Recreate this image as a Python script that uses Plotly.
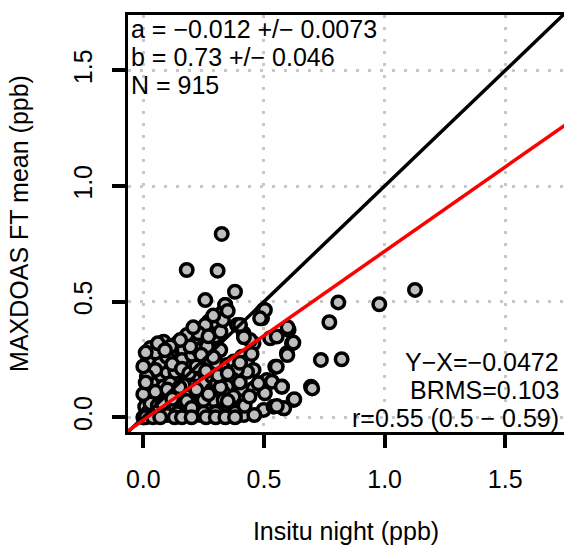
import plotly.graph_objects as go

# ---- data ----
insitu_night = [
    0.257, 0.340, 0.326, 0.271, 0.305, 0.388, 0.416, 0.499, 0.492, 0.209, 0.181, 0.140, 0.084, 0.222,
    0.250, 0.298, 0.278, 0.319, 0.167, 0.112, 0.070, 0.064, 0.133, 0.195, 0.236, 0.278, 0.305, 0.347,
    0.374, 0.409, 0.430, 0.457, 0.430, 0.388, 0.374, 0.347, 0.333, 0.409, 0.457, 0.485, 0.512, 0.533,
    0.575, 0.547, 0.595, 0.616, 0.602, 0.526, 0.457, 0.443, 0.499, 0.540, 0.581, 0.623, 0.409, 0.395,
    0.347, 0.305, 0.264, 0.222, 0.174, 0.126, 0.084, 0.043, 0.015, 0.029, 0.043, 0.029, 0.070, 0.098,
    0.133, 0.181, 0.215, 0.250, 0.285, 0.236, 0.195, 0.146, 0.105, 0.064, 0.036, 0.084, 0.285, 0.305,
    0.070, 0.050, 0.015, 0.008, 0.050, 0.098, 0.140, 0.181, 0.236, 0.278, 0.319, 0.360, 0.416, 0.291,
    0.250, 0.160, 0.333, 0.374, 0.209, 0.167, 0.112, 0.133, 0.098, 0.160, 0.202, 0.229, 0.264, 0.195,
    0.153, 0.112, 0.257, 0.229,
    # outliers
    0.325, 0.180, 0.308, 0.380, 0.339, 0.325, 0.207, 0.504, 0.484, 0.401,
    1.126, 0.978, 0.808, 0.771, 0.598, 0.736, 0.822, 0.695, 0.700, 0.626, 0.584, 0.553, 0.574, 0.553,
    0.553, 0.597, 0.622, 0.504, 0.477, 0.417, 0.449, 0.401,
    # dense core
    0.02, 0.03, 0.06, 0.05, 0.08, 0.10, 0.12, 0.15, 0.18, 0.20, 0.22, 0.25, 0.27, 0.30, 0.32, 0.35,
    0.38, 0.40, 0.42, 0.44, 0.02, 0.03, 0.05, 0.06, 0.09, 0.12, 0.16, 0.19, 0.22, 0.26, 0.29, 0.31,
    0.35, 0.24, 0.27, 0.32, 0.33, 0.29, 0.35, 0.00, 0.01, 0.00, 0.01, 0.00, 0.01, 0.04, 0.07, 0.13,
    0.16, 0.20, 0.26, 0.30, 0.34, 0.38, 0.46,
]
maxdoas_ft = [
    0.507, 0.486, 0.450, 0.414, 0.407, 0.399, 0.363, 0.464, 0.428, 0.378, 0.356, 0.320, 0.327, 0.327,
    0.349, 0.349, 0.298, 0.291, 0.291, 0.277, 0.262, 0.291, 0.226, 0.219, 0.255, 0.248, 0.233, 0.226,
    0.241, 0.262, 0.241, 0.205, 0.197, 0.205, 0.161, 0.133, 0.104, 0.118, 0.125, 0.147, 0.161, 0.154,
    0.133, 0.219, 0.277, 0.320, 0.378, 0.342, 0.320, 0.334, 0.032, 0.046, 0.039, 0.075, 0.068, 0.032,
    0.039, 0.046, 0.061, 0.046, 0.039, 0.046, 0.032, 0.046, 0.075, 0.118, 0.161, 0.197, 0.183, 0.197,
    0.169, 0.169, 0.161, 0.147, 0.118, 0.097, 0.104, 0.104, 0.089, 0.089, 0.147, 0.133, 0.176, 0.147,
    0.234, 0.205, 0.176, 0.046, 0.017, 0.010, 0.017, 0.010, 0.010, 0.010, 0.010, 0.010, 0.010, 0.075,
    0.075, 0.075, 0.075, 0.089, 0.133, 0.140, 0.147, 0.197, 0.262, 0.248, 0.270, 0.291, 0.306, 0.306,
    0.334, 0.306, 0.399, 0.363,
    # outliers
    0.793, 0.637, 0.634, 0.543, 0.486, 0.447, 0.389, 0.464, 0.428, 0.399,
    0.551, 0.489, 0.497, 0.411, 0.389, 0.248, 0.251, 0.132, 0.125, 0.078, 0.039, 0.049, 0.132, 0.219,
    0.349, 0.269, 0.323, 0.104, 0.147, 0.346, 0.274, 0.236,
    # dense core
    0.02, 0.06, 0.05, 0.11, 0.06, 0.12, 0.08, 0.13, 0.07, 0.04, 0.12, 0.02, 0.10, 0.02, 0.13, 0.07,
    0.02, 0.15, 0.05, 0.09, 0.25, 0.30, 0.28, 0.32, 0.29, 0.23, 0.21, 0.19, 0.22, 0.20, 0.26, 0.18,
    0.19, 0.27, 0.35, 0.37, 0.42, 0.44, 0.46, 0.10, 0.15, 0.22, 0.28, 0.00, 0.00, 0.00, 0.00, 0.00,
    0.00, 0.00, 0.00, 0.00, 0.00, 0.00, 0.01,
]

fit_a = -0.012
fit_b = 0.73
fit_a_err = 0.0073
fit_b_err = 0.046
n_points = 915
mean_diff = -0.0472
brms = 0.103
r_val, r_lo, r_hi = 0.55, 0.5, 0.59

x_range = [-0.0634, 1.7435]
y_range = [-0.0636, 1.740]
tick_vals = [0.0, 0.5, 1.0, 1.5]
tick_text = ["0.0", "0.5", "1.0", "1.5"]

FONT = "Liberation Sans, Arial, Helvetica, sans-serif"
FS = 25

fig = go.Figure()
fig.add_trace(go.Scatter(
    x=insitu_night, y=maxdoas_ft, mode="markers",
    marker=dict(size=12.5, color="#bebebe", line=dict(color="black", width=3.5)),
    hoverinfo="skip", showlegend=False))

line_x = [x_range[0] - 1, x_range[1] + 1]
fig.add_trace(go.Scatter(x=line_x, y=line_x, mode="lines",
                         line=dict(color="black", width=3.5), showlegend=False))
fig.add_trace(go.Scatter(x=line_x, y=[fit_a + fit_b * v for v in line_x], mode="lines",
                         line=dict(color="#ff0000", width=3.5), showlegend=False))

M = "\u2212"
def num(v):
    s = f"{v}"
    return s.replace("-", M)

top_lines = [
    f"a = {num(fit_a)} +/{M} {fit_a_err}",
    f"b = {fit_b} +/{M} {fit_b_err}",
    f"N = {n_points}",
]
top_y = [0.966, 0.899, 0.831]
for t, yy in zip(top_lines, top_y):
    fig.add_annotation(text=t, xref="paper", yref="paper", x=0.0, y=yy,
                       xanchor="left", yanchor="middle", showarrow=False, xshift=1,
                       font=dict(family=FONT, size=FS, color="black"))

bot_lines = [
    f"Y{M}X={num(mean_diff)}",
    f"BRMS={brms}",
    f"r={r_val} ({r_lo} {M} {r_hi})",
]
bot_y = [0.168, 0.101, 0.034]
for t, yy in zip(bot_lines, bot_y):
    fig.add_annotation(text=t, xref="paper", yref="paper", x=0.993, y=yy,
                       xanchor="right", yanchor="middle", showarrow=False,
                       font=dict(family=FONT, size=FS, color="black"))

fig.update_layout(
    width=564, height=545,
    margin=dict(l=128, r=0, t=15, b=113),
    paper_bgcolor="white", plot_bgcolor="white",
    font=dict(family=FONT, size=FS, color="black"),
    showlegend=False,
    xaxis=dict(
        range=x_range, tickvals=tick_vals, ticktext=tick_text,
        showline=True, linecolor="black", linewidth=3, mirror=True,
        ticks="outside", ticklen=13, tickwidth=3.5, tickcolor="black",
        ticklabelstandoff=10,
        showgrid=True, gridcolor="#c8c8c8", gridwidth=2.5, griddash="3px,9px",
        zeroline=False, tickfont=dict(family=FONT, size=FS),
        title=dict(text="Insitu night (ppb)", font=dict(family=FONT, size=FS), standoff=32),
    ),
    yaxis=dict(
        range=y_range, tickvals=tick_vals, ticktext=tick_text, tickangle=-90,
        showline=True, linecolor="black", linewidth=3, mirror=False,
        ticks="outside", ticklen=13, tickwidth=3.5, tickcolor="black",
        ticklabelstandoff=10,
        showgrid=True, gridcolor="#c8c8c8", gridwidth=2.5, griddash="3px,9px",
        zeroline=False, tickfont=dict(family=FONT, size=FS),
        title=dict(text="MAXDOAS FT mean (ppb)", font=dict(family=FONT, size=FS), standoff=34),
    ),
)

fig.write_html("out.html")
